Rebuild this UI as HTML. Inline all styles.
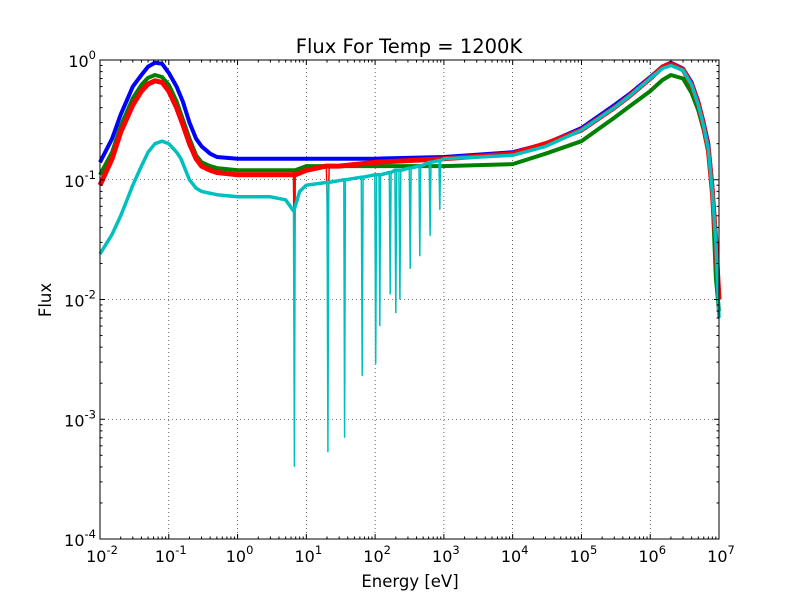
<!DOCTYPE html>
<html><head><meta charset="utf-8"><style>
body{margin:0;background:#fff;}
svg text{font-family:"DejaVu Sans","Liberation Sans",sans-serif;}
</style></head><body>
<svg id="chart" width="800" height="600" xmlns="http://www.w3.org/2000/svg">
<rect width="800" height="600" fill="#fff"/>
<g id="grid"></g><g id="series"></g><g id="axes"></g>
<text x="409" y="53" font-size="19.5" text-anchor="middle">Flux For Temp = 1200K</text>
<text x="410" y="587" font-size="16.5" text-anchor="middle">Energy [eV]</text>
<text x="51" y="300" font-size="16.5" text-anchor="middle" transform="rotate(-90 51 300)">Flux</text>
</svg>
<script>
const xTicks=[-2,-1,0,1,2,3,4,5,6,7];
const yTicks=[-4,-3,-2,-1,0];
const blueE=[0.01,0.015,0.02,0.03,0.04,0.05,0.063,0.08,0.1,0.13,0.16,0.2,0.25,0.3,0.4,0.5,1,10,100,1000,1e4,3e4,1e5,3e5,5e5,1e6,1.5e6,2e6,3e6,4e6,5e6,6e6,7e6,8e6,9e6,1e7];
const blueF=[0.14,0.22,0.35,0.6,0.75,0.88,0.95,0.93,0.78,0.6,0.45,0.3,0.22,0.19,0.165,0.155,0.15,0.15,0.15,0.155,0.17,0.2,0.27,0.42,0.52,0.72,0.88,0.95,0.85,0.65,0.45,0.3,0.2,0.09,0.03,0.01];
const redE=[0.01,0.015,0.02,0.03,0.04,0.05,0.063,0.08,0.1,0.13,0.16,0.2,0.25,0.3,0.4,0.5,1,5,6.5,6.7,6.9,10,19.5,20.6,21.5,30,100,1000,1e4,3e4,1e5,3e5,5e5,1e6,1.5e6,2e6,3e6,4e6,5e6,6e6,7e6,8e6,9e6,1e7];
const redF=[0.09,0.15,0.25,0.42,0.55,0.63,0.67,0.65,0.55,0.4,0.29,0.2,0.15,0.13,0.12,0.115,0.11,0.11,0.11,0.01,0.11,0.12,0.13,0.04,0.13,0.13,0.14,0.15,0.165,0.2,0.26,0.4,0.5,0.7,0.87,0.93,0.83,0.62,0.43,0.28,0.18,0.08,0.03,0.01];
const greenE=[0.01,0.015,0.02,0.03,0.04,0.05,0.063,0.08,0.1,0.13,0.16,0.2,0.25,0.3,0.4,0.5,1,5,6.5,6.7,6.9,10,100,1000,1e4,3e4,1e5,3e5,5e5,1e6,1.5e6,2e6,3e6,4e6,5e6,6e6,7e6,8e6,9e6,1e7];
const greenF=[0.11,0.17,0.28,0.48,0.62,0.71,0.75,0.72,0.62,0.45,0.32,0.22,0.16,0.14,0.13,0.125,0.12,0.12,0.12,0.02,0.12,0.13,0.13,0.13,0.135,0.165,0.21,0.33,0.41,0.55,0.68,0.75,0.7,0.53,0.38,0.26,0.17,0.08,0.015,0.008];
const cyanE=[0.01,0.015,0.02,0.03,0.04,0.05,0.063,0.08,0.1,0.13,0.15,0.2,0.25,0.3,0.5,1,3,5,6.5,6.7,6.9,8,10,20,20.6,21.2,35,36,37,63,65,67,99,102,105,114,117,120,161,166,171,194,200,206,222,229,236,314,324,334,434,447,460,612,631,650,845,871,897,1000,1e4,3e4,1e5,3e5,5e5,1e6,1.5e6,2e6,3e6,4e6,5e6,6e6,7e6,8e6,9e6,1e7];
const cyanF=[0.024,0.035,0.05,0.09,0.13,0.17,0.2,0.21,0.2,0.17,0.15,0.1,0.085,0.08,0.075,0.072,0.072,0.068,0.055,0.0004,0.06,0.08,0.09,0.095,0.00053,0.095,0.1,0.0007,0.1,0.105,0.0023,0.105,0.11,0.0029,0.11,0.11,0.006,0.11,0.115,0.011,0.115,0.12,0.0077,0.12,0.12,0.01,0.12,0.125,0.018,0.125,0.13,0.023,0.13,0.14,0.034,0.14,0.145,0.056,0.145,0.15,0.16,0.19,0.26,0.4,0.5,0.7,0.85,0.9,0.82,0.62,0.42,0.28,0.18,0.08,0.03,0.007];

const L=100,R=719,T=60,B=539;
const xs=e=>L+(Math.log10(e)+2)/9*(R-L);
const ys=f=>T+(0-Math.log10(f))/4*(B-T);
const NS="http://www.w3.org/2000/svg";
function mk(tag,attrs,parent){const el=document.createElementNS(NS,tag);for(const k in attrs)el.setAttribute(k,attrs[k]);parent.appendChild(el);return el;}
const grid=document.getElementById('grid'),axes=document.getElementById('axes'),ser=document.getElementById('series');
xTicks.forEach(t=>{const x=L+(t+2)/9*(R-L);
 if(t>-2&&t<7){const g=mk('line',{x1:x,x2:x,y1:T,y2:B,stroke:'#000','stroke-width':0.6,'stroke-dasharray':'1,3'},grid);
 
 }
 mk('line',{x1:x,x2:x,y1:B,y2:B-5,stroke:'#000'},axes);mk('line',{x1:x,x2:x,y1:T,y2:T+5,stroke:'#000'},axes);
 if(t<7)for(let m=2;m<10;m++){const xm=x+Math.log10(m)/9*(R-L);mk('line',{x1:xm,x2:xm,y1:B,y2:B-2.5,stroke:'#000'},axes);mk('line',{x1:xm,x2:xm,y1:T,y2:T+2.5,stroke:'#000'},axes);}
 const tx=mk('text',{x:x+2,y:B+23,'font-size':16,'text-anchor':'middle'},axes);
 
 
 tx.innerHTML='10<tspan dy="-8" font-size="11.5">'+t+'</tspan>';});
yTicks.forEach(t=>{const y=T+(-t)/4*(B-T);
 if(t>-4&&t<0){const g=mk('line',{x1:L,x2:R,y1:y,y2:y,stroke:'#000','stroke-width':0.6,'stroke-dasharray':'1,3'},grid);
 
 }
 mk('line',{x1:L,x2:L+5,y1:y,y2:y,stroke:'#000'},axes);mk('line',{x1:R,x2:R-5,y1:y,y2:y,stroke:'#000'},axes);
 if(t<0)for(let m=2;m<10;m++){const ym=y-Math.log10(m)/4*(B-T);mk('line',{x1:L,x2:L+2.5,y1:ym,y2:ym,stroke:'#000'},axes);mk('line',{x1:R,x2:R-2.5,y1:ym,y2:ym,stroke:'#000'},axes);}
 const tx=mk('text',{x:L-4,y:y+7,'font-size':16,'text-anchor':'end'},axes);
 
 
 tx.innerHTML='10<tspan dy="-8" font-size="11.5">'+t+'</tspan>';});
const fr=mk('rect',{x:L,y:T,width:R-L,height:B-T,fill:'none',stroke:'#000'},axes);


[[blueE,blueF,'#0000ff','blue-series',4],[greenE,greenF,'#008000','green-series',4],[redE,redF,'#ff0000','red-series',5],[cyanE,cyanF,'#00bfbf','cyan-series',3.5]].forEach(([E,F,c,n,w])=>{
 const d=E.map((e,i)=>(i?'L':'M')+xs(e).toFixed(1)+','+ys(F[i]).toFixed(1)).join('');
 const p=mk('path',{d:d,fill:'none',stroke:c,'stroke-width':1.5,'stroke-linejoin':'miter','stroke-miterlimit':50},ser);
 
 
 // thick band excluding narrow absorption dips
 const keep=E.map((e,i)=>!(i>0&&i<E.length-1&&F[i]<0.7*Math.min(F[i-1],F[i+1])));
 const d2=E.map((e,i)=>i).filter(i=>keep[i]).map((i,k)=>(k?'L':'M')+xs(E[i]).toFixed(1)+','+ys(F[i]).toFixed(1)).join('');
 const p2=mk('path',{d:d2,fill:'none',stroke:c,'stroke-width':w,'stroke-linejoin':'round'},ser);
 
 });
</script>
</body></html>
